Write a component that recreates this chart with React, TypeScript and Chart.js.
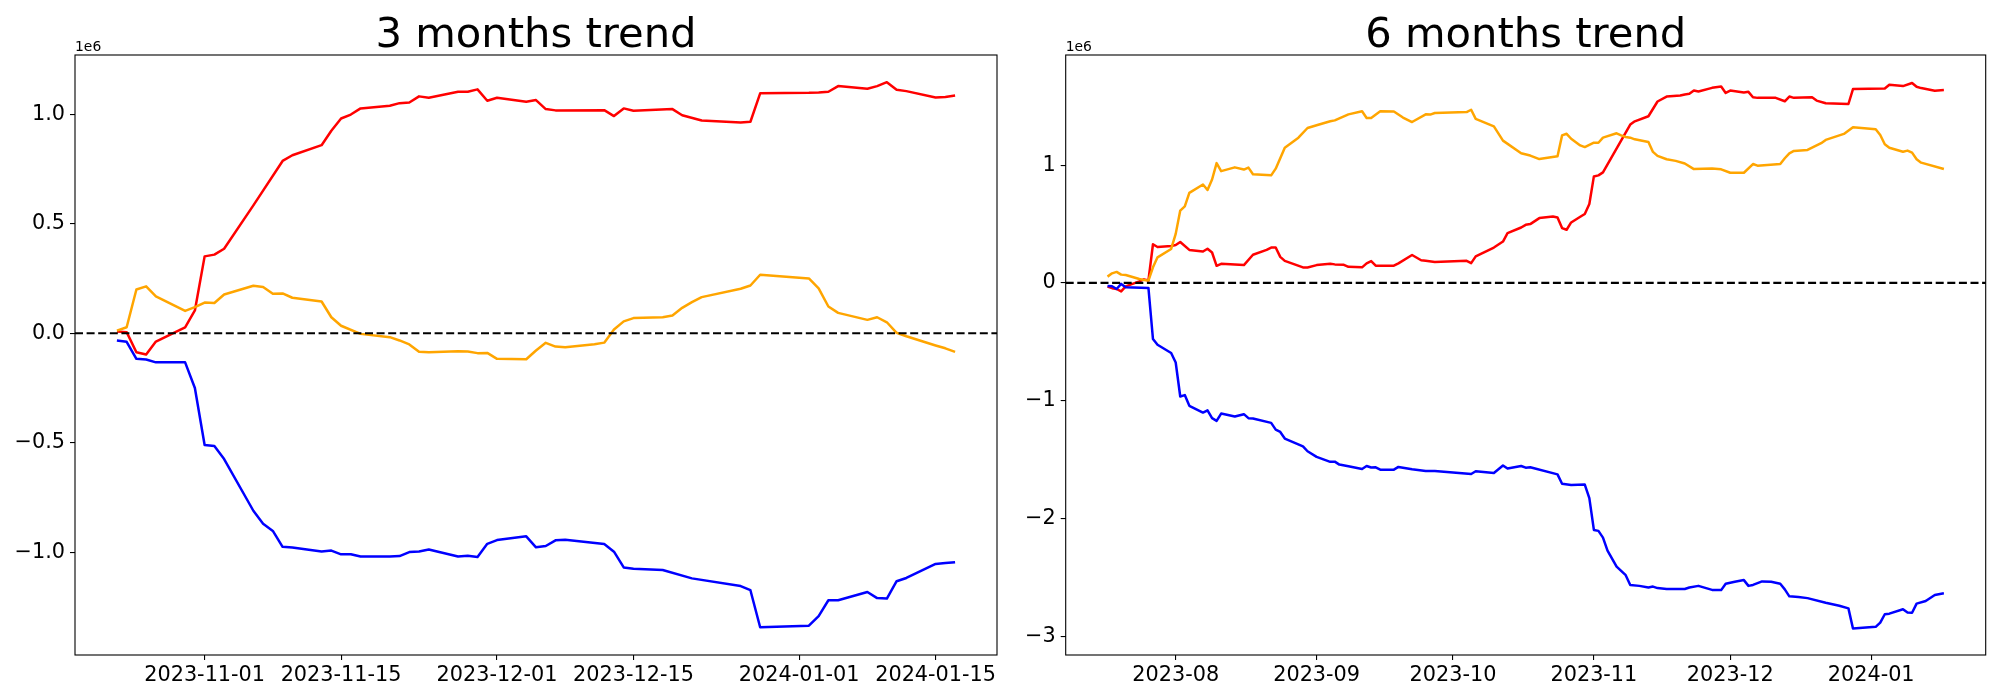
import React, { useEffect, useRef } from "react";
import { Chart, registerables } from "chart.js";

Chart.register(...registerables);

type Pt = [number, number];

// ---------- 3 months trend (day offset from 2023-11-01, value in 1e6) ----------
const THREE_BASE = "2023-11-01";
const threeXTicks = ["2023-11-01", "2023-11-15", "2023-12-01", "2023-12-15", "2024-01-01", "2024-01-15"];
const threeYTicks = [-1.0, -0.5, 0.0, 0.5, 1.0];

const threeRed: Pt[] = [
  [-9, 0.008], [-8, 0.005], [-7, -0.087], [-6, -0.097], [-5, -0.038], [-2, 0.027], [-1, 0.104],
  [0, 0.351], [1, 0.359], [2, 0.386], [5, 0.584], [8, 0.787], [9, 0.813], [12, 0.859], [13, 0.925],
  [14, 0.981], [15, 0.999], [16, 1.027], [19, 1.039], [20, 1.051], [21, 1.054], [22, 1.082], [23, 1.076],
  [26, 1.103], [27, 1.103], [28, 1.114], [29, 1.062], [30, 1.076], [33, 1.057], [34, 1.065], [35, 1.024],
  [36, 1.018], [41, 1.019], [42, 0.992], [43, 1.027], [44, 1.016], [48, 1.024], [49, 0.996], [51, 0.972],
  [55, 0.963], [56, 0.966], [57, 1.096], [62, 1.098], [63, 1.1], [64, 1.103], [65, 1.129], [68, 1.117],
  [69, 1.129], [70, 1.147], [71, 1.112], [72, 1.106], [75, 1.077], [76, 1.079], [77, 1.086],
];

const threeOrange: Pt[] = [
  [-9, 0.012], [-8, 0.027], [-7, 0.2], [-6, 0.214], [-5, 0.168], [-2, 0.102], [-1, 0.119], [0, 0.14],
  [1, 0.138], [2, 0.177], [5, 0.217], [6, 0.211], [7, 0.18], [8, 0.182], [9, 0.162], [12, 0.145],
  [13, 0.073], [14, 0.034], [16, -0.003], [19, -0.018], [20, -0.033], [21, -0.051], [22, -0.085],
  [23, -0.087], [26, -0.082], [27, -0.084], [28, -0.091], [29, -0.09], [30, -0.117], [33, -0.119],
  [34, -0.079], [35, -0.044], [36, -0.061], [37, -0.064], [40, -0.05], [41, -0.043], [42, 0.017],
  [43, 0.054], [44, 0.069], [47, 0.073], [48, 0.081], [49, 0.116], [50, 0.142], [51, 0.165], [55, 0.203],
  [56, 0.218], [57, 0.267], [62, 0.25], [63, 0.205], [64, 0.122], [65, 0.093], [68, 0.061], [69, 0.073],
  [70, 0.05], [71, 0.002], [72, -0.014], [75, -0.056], [76, -0.069], [77, -0.085],
];

const threeBlue: Pt[] = [
  [-9, -0.033], [-8, -0.039], [-7, -0.117], [-6, -0.12], [-5, -0.133], [-2, -0.133], [-1, -0.25],
  [0, -0.511], [1, -0.515], [2, -0.575], [5, -0.811], [6, -0.87], [7, -0.903], [8, -0.976], [9, -0.979],
  [12, -0.997], [13, -0.993], [14, -1.01], [15, -1.01], [16, -1.02], [19, -1.02], [20, -1.018],
  [21, -1.0], [22, -0.997], [23, -0.988], [26, -1.02], [27, -1.017], [28, -1.022], [29, -0.962],
  [30, -0.945], [33, -0.928], [34, -0.978], [35, -0.972], [36, -0.946], [37, -0.944], [41, -0.963],
  [42, -0.998], [43, -1.07], [44, -1.076], [47, -1.082], [50, -1.12], [55, -1.155], [56, -1.174],
  [57, -1.343], [62, -1.336], [63, -1.292], [64, -1.22], [65, -1.22], [68, -1.182], [69, -1.21],
  [70, -1.212], [71, -1.133], [72, -1.118], [75, -1.054], [76, -1.05], [77, -1.046],
];

// ---------- 6 months trend (day offset from 2023-08-01, value in 1e6) ----------
const SIX_BASE = "2023-08-01";
const sixXTicks = ["2023-08", "2023-09", "2023-10", "2023-11", "2023-12", "2024-01"];
const sixYTicks = [-3, -2, -1, 0, 1];

const sixRed: Pt[] = [
  [-15, -0.032], [-14, -0.045], [-13, -0.052], [-12, -0.072], [-11, -0.03], [-8, 0.013], [-7, 0.03],
  [-6, 0.02], [-5, 0.328], [-4, 0.305], [-1, 0.313], [0, 0.321], [1, 0.347], [3, 0.28], [6, 0.266],
  [7, 0.29], [8, 0.258], [9, 0.145], [10, 0.162], [15, 0.151], [17, 0.239], [20, 0.28], [21, 0.3],
  [22, 0.3], [23, 0.221], [24, 0.187], [26, 0.159], [28, 0.131], [29, 0.131], [31, 0.151], [34, 0.162],
  [35, 0.157], [37, 0.153], [38, 0.136], [41, 0.132], [42, 0.166], [43, 0.185], [44, 0.146], [48, 0.146],
  [49, 0.166], [52, 0.237], [54, 0.192], [55, 0.187], [57, 0.178], [64, 0.187], [65, 0.168], [66, 0.225],
  [70, 0.3], [72, 0.351], [73, 0.422], [76, 0.47], [77, 0.493], [78, 0.499], [80, 0.55], [83, 0.563],
  [84, 0.555], [85, 0.465], [86, 0.451], [87, 0.513], [89, 0.561], [90, 0.585], [91, 0.67], [92, 0.904],
  [93, 0.913], [94, 0.938], [100, 1.344], [101, 1.372], [104, 1.415], [106, 1.54], [108, 1.582],
  [111, 1.591], [112, 1.6], [113, 1.605], [114, 1.633], [115, 1.625], [118, 1.656], [120, 1.667],
  [121, 1.613], [122, 1.633], [125, 1.616], [126, 1.622], [127, 1.576], [128, 1.571], [132, 1.571],
  [134, 1.542], [135, 1.582], [136, 1.571], [140, 1.576], [141, 1.548], [143, 1.525], [148, 1.519],
  [149, 1.646], [156, 1.651], [157, 1.683], [160, 1.671], [162, 1.697], [163, 1.665], [164, 1.654],
  [167, 1.631], [169, 1.637],
];

const sixOrange: Pt[] = [
  [-15, 0.053], [-14, 0.081], [-13, 0.093], [-12, 0.07], [-11, 0.067], [-8, 0.033], [-7, 0.025],
  [-6, 0.019], [-5, 0.132], [-4, 0.217], [-1, 0.288], [0, 0.416], [1, 0.614], [2, 0.65], [3, 0.764],
  [6, 0.835], [7, 0.789], [8, 0.878], [9, 1.017], [10, 0.949], [13, 0.981], [15, 0.962], [16, 0.979],
  [17, 0.922], [21, 0.913], [22, 0.97], [24, 1.148], [27, 1.233], [29, 1.315], [31, 1.338], [34, 1.372],
  [35, 1.38], [38, 1.431], [41, 1.457], [42, 1.4], [43, 1.4], [45, 1.457], [48, 1.455], [50, 1.404],
  [52, 1.366], [55, 1.431], [56, 1.429], [57, 1.442], [64, 1.45], [65, 1.47], [66, 1.393], [70, 1.329],
  [72, 1.208], [76, 1.1], [78, 1.081], [80, 1.051], [84, 1.076], [85, 1.252], [86, 1.266], [87, 1.224],
  [89, 1.167], [90, 1.153], [92, 1.19], [93, 1.19], [94, 1.233], [97, 1.27], [98, 1.253], [99, 1.239],
  [100, 1.233], [101, 1.219], [104, 1.197], [105, 1.112], [106, 1.078], [108, 1.05], [110, 1.036],
  [112, 1.014], [114, 0.966], [118, 0.972], [120, 0.964], [122, 0.935], [125, 0.935], [127, 1.009],
  [128, 0.995], [133, 1.009], [134, 1.058], [135, 1.1], [136, 1.12], [139, 1.129], [142, 1.186],
  [143, 1.214], [147, 1.265], [149, 1.322], [154, 1.305], [155, 1.256], [156, 1.177], [157, 1.148],
  [160, 1.114], [161, 1.123], [162, 1.106], [163, 1.05], [164, 1.021], [169, 0.967],
];

const sixBlue: Pt[] = [
  [-15, -0.026], [-14, -0.029], [-13, -0.052], [-12, -0.009], [-11, -0.038], [-6, -0.043], [-5, -0.477],
  [-4, -0.525], [-1, -0.596], [0, -0.676], [1, -0.965], [2, -0.953], [3, -1.044], [6, -1.101],
  [7, -1.083], [8, -1.149], [9, -1.172], [10, -1.11], [13, -1.135], [15, -1.115], [16, -1.149],
  [17, -1.152], [21, -1.189], [22, -1.246], [23, -1.266], [24, -1.322], [28, -1.388], [29, -1.43],
  [31, -1.478], [34, -1.52], [35, -1.518], [36, -1.543], [38, -1.557], [41, -1.58], [42, -1.555],
  [43, -1.568], [44, -1.566], [45, -1.586], [48, -1.586], [49, -1.563], [52, -1.583], [55, -1.597],
  [57, -1.597], [65, -1.623], [66, -1.6], [70, -1.614], [72, -1.551], [73, -1.577], [76, -1.555],
  [77, -1.569], [78, -1.566], [84, -1.626], [85, -1.706], [87, -1.716], [90, -1.713], [91, -1.828],
  [92, -2.098], [93, -2.106], [94, -2.163], [95, -2.273], [97, -2.409], [99, -2.482], [100, -2.565],
  [102, -2.573], [104, -2.587], [105, -2.579], [106, -2.592], [108, -2.6], [112, -2.6], [113, -2.587],
  [115, -2.573], [118, -2.607], [120, -2.609], [121, -2.555], [123, -2.538], [125, -2.524], [126, -2.573],
  [127, -2.565], [129, -2.535], [131, -2.538], [133, -2.555], [134, -2.603], [135, -2.662], [137, -2.667],
  [139, -2.677], [143, -2.717], [146, -2.742], [148, -2.764], [149, -2.935], [154, -2.921], [155, -2.885],
  [156, -2.814], [157, -2.809], [160, -2.771], [161, -2.799], [162, -2.801], [163, -2.724], [165, -2.701],
  [167, -2.65], [169, -2.636],
];

const RED = "#ff0000";
const ORANGE = "#ffa500";
const BLUE = "#0000ff";
const FONT = "'DejaVu Sans', 'Liberation Sans', sans-serif";

const DAY_MS = 86400000;
const toDay = (s: string): number => {
  const [y, m, d] = s.split("-").map(Number);
  return Date.UTC(y, m - 1, d || 1) / DAY_MS;
};

const fmtY = (v: number, decimals: number) => {
  const val = Math.abs(v) < 1e-9 ? 0 : v;
  const s = Math.abs(val).toFixed(decimals);
  return val < 0 ? "\u2212" + s : s;
};

const decorPlugin = {
  id: "decor",
  afterDatasetsDraw(chart: any, _args: any, o: any) {
    const { ctx, chartArea: a } = chart;
    const y0 = chart.scales.y.getPixelForValue(0);
    ctx.save();
    ctx.strokeStyle = "#000";
    ctx.lineWidth = 2.1;
    ctx.setLineDash([8, 3.6]);
    ctx.beginPath();
    ctx.moveTo(a.left, y0);
    ctx.lineTo(a.right, y0);
    ctx.stroke();
    ctx.setLineDash([]);
    ctx.lineWidth = 1.1;
    ctx.strokeRect(a.left, a.top, a.right - a.left, a.bottom - a.top);
    ctx.fillStyle = "#000";
    ctx.font = `41.7px ${FONT}`;
    ctx.textAlign = "center";
    ctx.textBaseline = "alphabetic";
    ctx.fillText(o.title, (a.left + a.right) / 2, a.top - 8.5);
    ctx.font = `13.9px ${FONT}`;
    ctx.textAlign = "left";
    ctx.fillText(o.offset, a.left, a.top - 4.5);
    ctx.restore();
  },
};

interface ChartOpts {
  base: string;
  series: { data: Pt[]; color: string }[];
  xTicks: string[];
  yTicks: number[];
  yMin: number;
  yMax: number;
  yDecimals: number;
  title: string;
  yAxisWidth: number;
  padRight: number;
}

function buildChart(canvas: HTMLCanvasElement, opts: ChartOpts) {
  const base = toDay(opts.base);
  const allDays = opts.series.flatMap((s) => s.data.map((p) => p[0] + base));
  const dMin = Math.min(...allDays);
  const dMax = Math.max(...allDays);
  const span = dMax - dMin;
  const tickDays = opts.xTicks.map(toDay);
  const labelOf = new Map<number, string>(tickDays.map((d, i) => [d, opts.xTicks[i]]));

  return new Chart(canvas, {
    type: "line",
    data: {
      datasets: opts.series.map((s) => ({
        data: s.data.map(([d, v]) => ({ x: d + base, y: v })),
        borderColor: s.color,
        backgroundColor: s.color,
        borderWidth: 2.5,
        pointRadius: 0,
        pointHoverRadius: 0,
        fill: false,
        tension: 0,
        borderJoinStyle: "round",
        borderCapStyle: "butt",
      })),
    },
    options: {
      animation: false,
      responsive: false,
      events: [],
      layout: { padding: { top: 55, right: opts.padRight, left: 0, bottom: 0 } },
      plugins: {
        legend: { display: false },
        tooltip: { enabled: false },
        title: { display: false },
        decor: { title: opts.title, offset: "1e6" },
      } as any,
      scales: {
        x: {
          type: "linear",
          min: dMin - 0.05 * span,
          max: dMax + 0.05 * span,
          afterBuildTicks: (s: any) => {
            s.ticks = tickDays.map((v) => ({ value: v }));
          },
          afterFit: (s: any) => {
            s.height = 45;
          },
          ticks: {
            callback: (v: any) => labelOf.get(Number(v)) ?? "",
            autoSkip: false,
            maxRotation: 0,
            minRotation: 0,
            color: "#000",
            font: { family: FONT, size: 20.8 },
            padding: 3,
          },
          grid: { drawOnChartArea: false, drawTicks: true, tickLength: 5, color: "#000", lineWidth: 1.1 },
          border: { display: false },
        },
        y: {
          type: "linear",
          min: opts.yMin,
          max: opts.yMax,
          afterBuildTicks: (s: any) => {
            s.ticks = opts.yTicks.map((v) => ({ value: v }));
          },
          afterFit: (s: any) => {
            s.width = opts.yAxisWidth;
          },
          ticks: {
            callback: (v: any) => fmtY(Number(v), opts.yDecimals),
            color: "#000",
            font: { family: FONT, size: 20.8 },
            padding: 5,
          },
          grid: { drawOnChartArea: false, drawTicks: true, tickLength: 5, color: "#000", lineWidth: 1.1 },
          border: { display: false },
        },
      },
    } as any,
    plugins: [decorPlugin as any],
  });
}

export default function App() {
  const leftRef = useRef<HTMLCanvasElement | null>(null);
  const rightRef = useRef<HTMLCanvasElement | null>(null);

  useEffect(() => {
    if (!leftRef.current || !rightRef.current) return;
    const c1 = buildChart(leftRef.current, {
      base: THREE_BASE,
      series: [
        { data: threeBlue, color: BLUE },
        { data: threeOrange, color: ORANGE },
        { data: threeRed, color: RED },
      ],
      xTicks: threeXTicks,
      yTicks: threeYTicks,
      yMin: -1.47,
      yMax: 1.271,
      yDecimals: 1,
      title: "3 months trend",
      yAxisWidth: 75,
      padRight: 3,
    });
    const c2 = buildChart(rightRef.current, {
      base: SIX_BASE,
      series: [
        { data: sixBlue, color: BLUE },
        { data: sixOrange, color: ORANGE },
        { data: sixRed, color: RED },
      ],
      xTicks: sixXTicks,
      yTicks: sixYTicks,
      yMin: -3.16,
      yMax: 1.935,
      yDecimals: 0,
      title: "6 months trend",
      yAxisWidth: 65.7,
      padRight: 14.3,
    });
    return () => {
      c1.destroy();
      c2.destroy();
    };
  }, []);

  return (
    <div style={{ position: "absolute", left: 0, top: 0, width: 2000, height: 700, background: "#fff" }}>
      <canvas
        ref={leftRef}
        width={1000}
        height={700}
        style={{ position: "absolute", left: 0, top: 0, width: 1000, height: 700 }}
      />
      <canvas
        ref={rightRef}
        width={1000}
        height={700}
        style={{ position: "absolute", left: 1000, top: 0, width: 1000, height: 700 }}
      />
    </div>
  );
}
